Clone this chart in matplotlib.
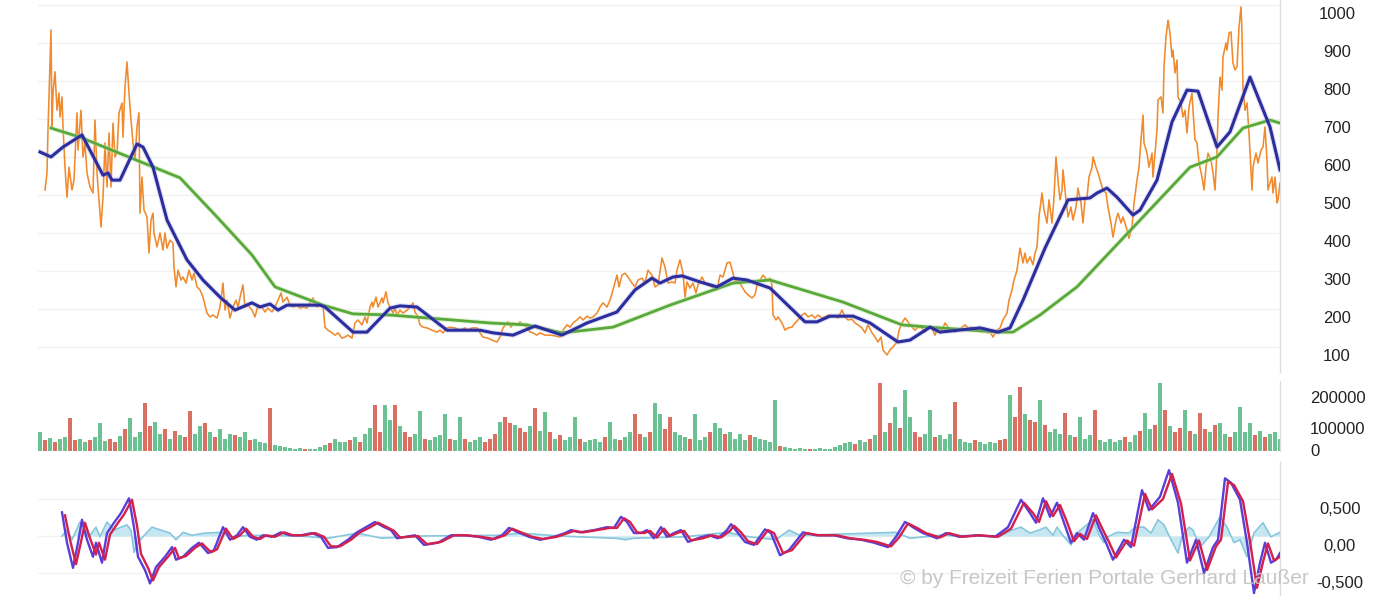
import numpy as np
import matplotlib
matplotlib.use("Agg")
import matplotlib.pyplot as plt
from matplotlib.transforms import ScaledTranslation, blended_transform_factory

# ---------------- data (session index) ----------------
price_session = [
    7, 9, 10, 13, 14, 15, 17, 19, 21, 22,
    24, 25, 27, 29, 31, 34, 36, 39, 40, 43,
    45, 47, 49, 52, 55, 57, 59, 61, 63, 65,
    67, 69, 71, 73, 75, 77, 79, 81, 84, 85,
    87, 89, 91, 93, 95, 97, 99, 101, 102, 104,
    106, 109, 111, 113, 115, 116, 119, 122, 125, 127,
    129, 132, 135, 136, 138, 140, 143, 145, 148, 151,
    154, 156, 159, 162, 165, 169, 172, 175, 179, 182,
    185, 187, 189, 192, 195, 198, 200, 203, 205, 207,
    210, 214, 217, 220, 224, 227, 230, 234, 237, 240,
    243, 245, 249, 252, 255, 259, 262, 265, 269, 272,
    275, 279, 282, 285, 287, 290, 294, 297, 300, 304,
    307, 310, 314, 317, 320, 324, 327, 329, 332, 334,
    335, 338, 340, 344, 345, 348, 350, 352, 355, 357,
    359, 362, 365, 369, 372, 375, 377, 380, 382, 385,
    389, 394, 399, 402, 405, 409, 412, 417, 422, 427,
    430, 434, 439, 442, 445, 450, 454, 459, 462, 465,
    469, 470, 473, 475, 479, 482, 485, 489, 492, 495,
    499, 502, 507, 512, 517, 522, 525, 529, 532, 535,
    539, 542, 545, 549, 552, 555, 559, 562, 565, 569,
    572, 575, 579, 581, 584, 587, 590, 594, 597, 600,
    604, 607, 610, 614, 617, 620, 624, 627, 630, 634,
    637, 639, 642, 645, 647, 649, 652, 655, 658, 660,
    664, 667, 670, 674, 679, 682, 685, 689, 692, 695,
    697, 700, 704, 707, 710, 714, 717, 719, 722, 725,
    729, 732, 734, 735, 738, 740, 744, 747, 750, 754,
    757, 760, 764, 767, 770, 774, 777, 780, 784, 787,
    790, 794, 797, 800, 804, 807, 810, 814, 817, 820,
    824, 827, 830, 834, 837, 840, 843, 845, 849, 852,
    855, 859, 861, 864, 867, 870, 874, 877, 880, 884,
    887, 890, 894, 897, 900, 904, 907, 910, 914, 917,
    920, 924, 927, 930, 934, 937, 940, 944, 947, 950,
    952, 955, 959, 962, 965, 969, 971, 974, 976, 979,
    982, 985, 987, 989, 992, 995, 997, 999, 1001, 1004,
    1006, 1009, 1011, 1014, 1016, 1018, 1020, 1022, 1024, 1025,
    1028, 1030, 1033, 1035, 1038, 1040, 1043, 1045, 1047, 1049,
    1051, 1054, 1055, 1058, 1060, 1063, 1065, 1068, 1070, 1073,
    1075, 1078, 1080, 1083, 1085, 1089, 1091, 1094, 1096, 1099,
    1101, 1103, 1105, 1106, 1109, 1111, 1114, 1115, 1117, 1119,
    1120, 1123, 1125, 1126, 1128, 1130, 1132, 1134, 1135, 1137,
    1139, 1140, 1143, 1145, 1147, 1149, 1151, 1154, 1155, 1157,
    1159, 1161, 1164, 1166, 1168, 1170, 1173, 1175, 1177, 1179,
    1180, 1182, 1184, 1185, 1188, 1189, 1191, 1193, 1195, 1197,
    1199, 1201, 1203, 1204, 1205, 1207, 1209, 1211, 1214, 1215,
    1218, 1220, 1223, 1225, 1227, 1229, 1230, 1232, 1234, 1235,
    1237, 1239, 1240, 1242,
]
price = [
    513, 558, 671, 934, 679, 768, 824, 723, 768, 705,
    758, 679, 573, 494, 573, 513, 539, 716, 618, 723,
    600, 637, 558, 521, 505, 697, 558, 487, 416, 494,
    637, 521, 663, 521, 689, 600, 610, 716, 742, 652,
    784, 850, 768, 697, 637, 592, 679, 716, 452, 547,
    460, 442, 347, 434, 452, 400, 363, 400, 355, 400,
    360, 381, 373, 310, 258, 302, 276, 284, 268, 302,
    276, 294, 258, 250, 231, 189, 179, 184, 176, 205,
    268, 197, 223, 176, 205, 223, 205, 242, 263, 205,
    210, 197, 179, 210, 205, 192, 202, 192, 205, 223,
    242, 218, 231, 210, 205, 210, 202, 205, 202, 216,
    229, 205, 210, 210, 152, 144, 137, 131, 137, 123,
    126, 131, 123, 163, 171, 158, 179, 163, 205, 218,
    205, 231, 205, 229, 216, 245, 216, 205, 189, 202,
    184, 197, 189, 197, 205, 216, 192, 179, 158, 152,
    150, 144, 139, 144, 137, 150, 152, 150, 144, 150,
    144, 150, 150, 137, 126, 123, 118, 113, 126, 150,
    163, 166, 152, 163, 158, 166, 158, 152, 139, 137,
    131, 137, 131, 131, 129, 126, 144, 158, 152, 163,
    171, 179, 171, 181, 176, 179, 189, 205, 216, 205,
    223, 250, 289, 258, 289, 294, 284, 268, 258, 276,
    281, 268, 302, 289, 258, 263, 334, 310, 268, 271,
    268, 302, 329, 294, 231, 271, 255, 268, 242, 263,
    284, 268, 263, 258, 250, 289, 284, 321, 323, 294,
    271, 276, 258, 245, 237, 229, 237, 263, 276, 289,
    276, 281, 263, 184, 171, 179, 163, 144, 150, 152,
    163, 171, 184, 189, 179, 184, 176, 184, 176, 179,
    184, 179, 181, 176, 197, 179, 171, 173, 163, 158,
    150, 137, 158, 137, 126, 113, 126, 92, 79, 92,
    100, 113, 144, 163, 176, 166, 152, 144, 152, 150,
    139, 152, 150, 131, 150, 144, 163, 152, 144, 139,
    144, 152, 158, 150, 152, 144, 150, 139, 150, 137,
    139, 126, 144, 150, 171, 189, 223, 250, 276, 302,
    360, 321, 347, 321, 337, 316, 347, 363, 442, 505,
    460, 426, 487, 426, 494, 600, 539, 487, 513, 566,
    487, 442, 468, 434, 468, 518, 479, 426, 487, 494,
    547, 573, 600, 573, 558, 531, 513, 505, 468, 426,
    389, 434, 452, 426, 442, 408, 386, 416, 479, 539,
    573, 645, 710, 637, 610, 573, 610, 547, 610, 671,
    750, 758, 716, 837, 916, 960, 926, 863, 881, 821,
    855, 758, 742, 705, 723, 663, 731, 768, 723, 645,
    637, 584, 547, 513, 573, 610, 592, 558, 513, 618,
    705, 810, 776, 863, 900, 881, 926, 929, 847, 829,
    837, 942, 995, 926, 784, 723, 742, 663, 513, 573,
    610, 584, 618, 626, 679, 592, 513, 531, 547, 505,
    547, 479, 487, 531,
]

ma_short_session = [
    2, 13, 25, 44, 65, 70, 74, 82, 99, 105,
    115, 129, 149, 165, 182, 197, 214, 222, 232, 240,
    249, 282, 287, 315, 329, 352, 362, 379, 409, 429,
    442, 455, 475, 497, 524, 549, 579, 597, 614, 622,
    635, 644, 662, 679, 695, 709, 732, 767, 779, 792,
    815, 832, 860, 872, 892, 902, 942, 960, 972, 985,
    1007, 1030, 1052, 1059, 1069, 1079, 1095, 1102, 1119, 1134,
    1149, 1160, 1179, 1192, 1212, 1232, 1242,
]
ma_short = [
    613, 600, 626, 658, 552, 558, 539, 539, 634, 626,
    573, 434, 329, 276, 231, 197, 216, 205, 213, 197,
    210, 210, 205, 139, 139, 202, 208, 205, 144, 144,
    144, 137, 131, 155, 131, 163, 192, 250, 281, 268,
    284, 287, 271, 258, 281, 276, 255, 166, 166, 181,
    181, 163, 113, 118, 152, 139, 150, 139, 150, 223,
    360, 487, 492, 505, 518, 494, 447, 460, 539, 692,
    776, 773, 626, 666, 810, 679, 566,
]

ma_long_session = [
    13, 42, 142, 179, 214, 237, 285, 315, 352, 452,
    489, 524, 575, 632, 695, 732, 805, 864, 892, 960,
    975, 1002, 1039, 1152, 1179, 1205, 1232, 1242,
]
ma_long = [
    676, 652, 545, 442, 342, 258, 210, 187, 184, 163,
    158, 137, 152, 210, 268, 276, 218, 158, 152, 139,
    139, 184, 258, 573, 600, 676, 697, 689,
]

# volume in thousands, one bar every 5 sessions
volume_k = [
    60, 35, 42, 30, 38, 45, 105, 35, 40, 28,
    36, 45, 90, 32, 38, 30, 48, 70, 105, 45,
    60, 155, 80, 95, 55, 70, 40, 65, 50, 45,
    130, 55, 80, 90, 60, 45, 70, 40, 55, 50,
    45, 60, 35, 40, 30, 25, 140, 20, 15, 12,
    10, 8, 10, 6, 8, 5, 12, 20, 25, 40,
    30, 28, 35, 45, 30, 55, 75, 148, 60, 148,
    100, 148, 80, 60, 45, 55, 130, 40, 35, 45,
    50, 120, 40, 35, 110, 40, 30, 35, 45, 30,
    40, 55, 95, 110, 90, 85, 75, 60, 80, 140,
    65, 125, 60, 40, 50, 35, 45, 110, 40, 30,
    35, 40, 30, 45, 95, 40, 35, 45, 60, 120,
    55, 45, 60, 155, 120, 70, 110, 60, 50, 45,
    40, 120, 35, 45, 60, 90, 75, 55, 60, 40,
    55, 35, 50, 45, 40, 35, 30, 165, 15, 12,
    10, 8, 10, 7, 6, 8, 10, 6, 8, 12,
    20, 25, 30, 22, 35, 28, 40, 50, 219, 60,
    90, 142, 75, 197, 110, 60, 45, 55, 132, 45,
    50, 40, 55, 158, 40, 30, 25, 35, 28, 22,
    30, 25, 35, 40, 181, 110, 206, 120, 100, 95,
    165, 85, 60, 70, 55, 123, 50, 45, 110, 40,
    50, 132, 35, 30, 40, 28, 35, 45, 30, 50,
    65, 123, 70, 85, 219, 132, 80, 60, 75, 132,
    65, 55, 123, 70, 60, 85, 90, 55, 45, 60,
    142, 60, 90, 50, 65, 45, 55, 60, 40,
]
volume_dir = ("grgrggrrgg" "rgggrrgrgg" "grrggrgrgr" "rggrgrgggr" "ggrgggrggg"
              "gggrggggrg" "ggrgrggrrg" "grgrrggrgg" "ggrggrgggr" "rrgrrgrrgr"
              "ggrgrgggrg" "gggrggrggr" "rgrggrrggg" "rgggrggrgg" "ggrgggggrg"
              "ggggrggggg" "gggrggrgrg" "rgrggrrggr" "gggrgggrgg" "ggrrgrrgrr"
              "grgggrgrgg" "grgggggrgg" "rggrgrgrrg" "rgrrgrggrg" "gggrgrggg")

macd_session = [
    24, 29, 35, 40, 44, 49, 55, 58, 64, 69,
    76, 83, 91, 96, 100, 107, 112, 118, 127, 134,
    138, 145, 154, 161, 170, 176, 185, 192, 199, 205,
    212, 219, 225, 234, 243, 252, 263, 274, 283, 290,
    299, 310, 319, 328, 337, 346, 353, 359, 368, 377,
    386, 400, 413, 426, 440, 453, 464, 471, 480, 491,
    502, 516, 527, 533, 542, 556, 569, 576, 583, 589,
    596, 603, 609, 616, 623, 629, 636, 643, 650, 662,
    671, 680, 689, 693, 700, 707, 716, 727, 733, 742,
    751, 765, 778, 796, 809, 823, 836, 850, 858, 867,
    876, 885, 899, 908, 921, 939, 957, 970, 983, 992,
    998, 1005, 1012, 1019, 1026, 1033, 1039, 1046, 1055, 1062,
    1068, 1075, 1086, 1093, 1104, 1111, 1122, 1131, 1140, 1149,
    1158, 1166, 1175, 1180, 1187, 1193, 1202, 1209, 1216, 1222,
    1227, 1233, 1238, 1242,
]
macd = [
    0.32, -0.09, -0.43, -0.09, 0.22, -0.05, -0.28, -0.09, -0.36, 0.04,
    0.18, 0.31, 0.51, 0.12, -0.28, -0.46, -0.64, -0.42, -0.28, -0.15,
    -0.32, -0.28, -0.16, -0.09, -0.23, -0.19, 0.12, -0.05, 0.01, 0.12,
    -0.01, -0.05, 0.01, -0.01, 0.05, 0.01, 0.01, 0.04, -0.01, -0.16,
    -0.15, -0.05, 0.05, 0.12, 0.19, 0.12, 0.08, -0.03, -0.01, 0.01,
    -0.12, -0.09, 0.01, 0.01, -0.01, -0.05, 0.01, 0.11, 0.05, -0.01,
    -0.05, -0.01, 0.04, 0.08, 0.05, 0.08, 0.12, 0.11, 0.26, 0.19,
    0.04, 0.04, 0.08, -0.03, 0.12, -0.01, 0.04, 0.08, -0.08, -0.02,
    0.01, -0.03, 0.08, 0.16, 0.04, -0.08, -0.12, 0.09, 0.04, -0.26,
    -0.19, 0.05, 0.01, 0.01, -0.03, -0.05, -0.09, -0.15, -0.01, 0.19,
    0.11, 0.04, -0.03, 0.04, -0.01, 0.01, -0.01, 0.12, 0.49, 0.31,
    0.18, 0.51, 0.26, 0.45, 0.18, -0.09, 0.04, -0.05, 0.31, 0.08,
    -0.09, -0.32, -0.05, -0.15, 0.62, 0.35, 0.53, 0.89, 0.45, -0.36,
    -0.05, -0.50, -0.15, -0.05, 0.78, 0.72, 0.49, -0.09, -0.77, -0.36,
    -0.09, -0.36, -0.32, -0.23,
]

signal_session = [
    27, 32, 38, 43, 47, 52, 58, 61, 67, 72,
    79, 86, 94, 99, 103, 110, 115, 121, 130, 137,
    141, 148, 157, 164, 173, 179, 188, 195, 202, 208,
    215, 222, 228, 237, 246, 255, 266, 277, 286, 293,
    302, 313, 322, 331, 340, 349, 356, 362, 371, 380,
    389, 403, 416, 429, 443, 456, 467, 474, 483, 494,
    505, 519, 530, 536, 545, 559, 572, 579, 586, 592,
    599, 606, 612, 619, 626, 632, 639, 646, 653, 665,
    674, 683, 692, 696, 703, 710, 719, 730, 736, 745,
    754, 768, 781, 799, 812, 826, 839, 853, 861, 870,
    879, 888, 902, 911, 924, 942, 960, 973, 986, 995,
    1001, 1008, 1015, 1022, 1029, 1036, 1042, 1049, 1058, 1065,
    1071, 1078, 1089, 1096, 1107, 1114, 1125, 1134, 1143, 1152,
    1161, 1169, 1178, 1183, 1190, 1196, 1205, 1212, 1219, 1225,
    1230, 1236, 1242,
]
signal = [
    0.28, -0.05, -0.38, -0.08, 0.18, -0.03, -0.25, -0.09, -0.32, 0.02,
    0.16, 0.29, 0.49, 0.14, -0.24, -0.43, -0.60, -0.42, -0.28, -0.16,
    -0.30, -0.27, -0.16, -0.10, -0.22, -0.18, 0.10, -0.04, 0.01, 0.10,
    -0.01, -0.04, 0.01, -0.01, 0.05, 0.01, 0.01, 0.04, -0.01, -0.14,
    -0.14, -0.05, 0.05, 0.11, 0.18, 0.12, 0.07, -0.02, -0.01, 0.00,
    -0.11, -0.08, 0.01, 0.01, -0.01, -0.04, 0.01, 0.10, 0.05, -0.01,
    -0.04, -0.01, 0.04, 0.07, 0.05, 0.08, 0.11, 0.11, 0.24, 0.19,
    0.05, 0.04, 0.07, -0.02, 0.10, 0.00, 0.04, 0.07, -0.06, -0.03,
    0.01, -0.02, 0.07, 0.14, 0.05, -0.07, -0.11, 0.08, 0.04, -0.23,
    -0.19, 0.04, 0.01, 0.01, -0.03, -0.05, -0.08, -0.14, -0.02, 0.17,
    0.11, 0.04, -0.02, 0.04, -0.01, 0.01, -0.01, 0.10, 0.45, 0.31,
    0.19, 0.47, 0.27, 0.42, 0.19, -0.07, 0.03, -0.04, 0.28, 0.08,
    -0.08, -0.29, -0.06, -0.13, 0.57, 0.36, 0.50, 0.84, 0.44, -0.33,
    -0.06, -0.46, -0.14, -0.05, 0.73, 0.69, 0.47, -0.07, -0.70, -0.35,
    -0.10, -0.33, -0.28,
]

hist_session = [
    24, 29, 34, 42, 51, 58, 62, 69, 76, 83,
    89, 93, 96, 100, 105, 114, 123, 132, 138, 145,
    154, 167, 185, 194, 212, 262, 290, 319, 344, 382,
    462, 482, 522, 578, 587, 596, 645, 662, 689, 711,
    738, 751, 762, 858, 872, 902, 962, 974, 983, 992,
    1001, 1008, 1015, 1019, 1026, 1033, 1039, 1046, 1055, 1062,
    1066, 1070, 1079, 1091, 1097, 1106, 1113, 1120, 1126, 1133,
    1140, 1144, 1151, 1155, 1162, 1171, 1182, 1189, 1196, 1202,
    1209, 1216, 1225, 1233, 1242,
]
hist = [
    0.00, 0.08, -0.05, 0.19, -0.01, 0.12, -0.01, 0.19, 0.08, 0.12,
    0.15, 0.08, -0.22, -0.09, -0.01, 0.12, 0.08, 0.04, -0.05, 0.05,
    0.01, 0.04, 0.05, -0.01, 0.01, 0.00, -0.03, 0.04, -0.03, 0.00,
    0.01, 0.04, 0.00, -0.03, -0.05, -0.03, -0.01, 0.01, 0.05, -0.01,
    -0.05, 0.08, 0.01, 0.05, -0.03, 0.01, 0.00, 0.08, 0.12, 0.04,
    0.08, 0.12, 0.01, 0.12, -0.01, -0.12, 0.04, 0.12, 0.22, -0.01,
    -0.09, -0.01, 0.05, 0.04, 0.12, 0.12, 0.04, 0.22, 0.15, -0.05,
    -0.23, -0.01, 0.12, 0.08, -0.15, -0.01, 0.26, 0.12, -0.09, -0.05,
    -0.28, 0.04, 0.18, -0.01, 0.05,
]

price_ticks = [100, 200, 300, 400, 500, 600, 700, 800, 900, 1000]
volume_ticks_k = [100, 200]
volume_tick_labels = ["100000", "200000"]
osc_ticks = [-0.5, 0.0, 0.5]
osc_tick_labels = ["-0,500", "0,00", "0,500"]
watermark = "\u00a9 by Freizeit Ferien Portale Gerhard Lau\u00dfer"

# ---------------- figure ----------------
W, H = 1400, 596
fig = plt.figure(figsize=(W / 100, H / 100), dpi=100)
fig.patch.set_facecolor("white")
FONT = "Liberation Sans"
LABEL_COLOR = "#222222"


def px_axes(x0, y0, x1, y1):
    return fig.add_axes([x0 / W, 1 - y1 / H, (x1 - x0) / W, (y1 - y0) / H])


ax = px_axes(38, 0, 1280, 372)
axv = px_axes(38, 381, 1280, 451)
axo = px_axes(38, 462, 1280, 596)

n_sessions = 1242
for a in (ax, axv, axo):
    a.set_xlim(0, n_sessions)
    for s in ("left", "top", "bottom"):
        a.spines[s].set_visible(False)
    a.spines["right"].set_color("#dddddd")
    a.spines["right"].set_linewidth(1.0)
    a.tick_params(left=False, right=False, bottom=False, top=False,
                  labelleft=False, labelright=False, labelbottom=False)
    a.set_facecolor("none")


def right_label(a, value, text, dx_px, dy_px, ha):
    tr = blended_transform_factory(a.transAxes, a.transData)
    off = ScaledTranslation(dx_px / 100, -dy_px / 100, fig.dpi_scale_trans)
    a.text(1.0, value, text, transform=tr + off, ha=ha, va="center",
           fontsize=12, family=FONT, color=LABEL_COLOR, clip_on=False)


# --- price panel ---
ax.set_ylim(34, 1013)
ax.set_yticks(price_ticks)
ax.grid(axis="y", color="#f1f1f1", linewidth=0.9)
ax.set_axisbelow(True)
ax.plot(price_session, price, color="#f08a2c", linewidth=1.15, zorder=3)
ax.plot(ma_long_session, ma_long, color="#c2e3ab", linewidth=3.6, alpha=0.45,
        zorder=4, solid_joinstyle="round")
ax.plot(ma_long_session, ma_long, color="#58a83a", linewidth=2.0, zorder=5,
        solid_joinstyle="round")
ax.plot(ma_short_session, ma_short, color="#9a9ce4", linewidth=3.8, alpha=0.3,
        zorder=6, solid_joinstyle="round")
ax.plot(ma_short_session, ma_short, color="#2b2e9c", linewidth=2.2, zorder=7,
        solid_joinstyle="round")
for v in price_ticks:
    right_label(ax, v, str(v), 57, 10, "center")

# --- volume panel ---
axv.set_ylim(0, 225.8)
colors = {"g": "#4cb47a", "r": "#d4503f"}
vdir = volume_dir.ljust(len(volume_k), "g")[:len(volume_k)]
vol_x = np.arange(len(volume_k)) * 5
axv.bar(vol_x, volume_k, width=4.2, align="edge",
        color=[colors[c] for c in vdir], edgecolor="none", alpha=0.82)
right_label(axv, 0, "0", 30, 0, "left")
for v, t in zip(volume_ticks_k, volume_tick_labels):
    right_label(axv, v, t, 30, 10, "left")

# --- oscillator panel ---
axo.set_ylim(-0.81, 1.0)
axo.set_yticks(osc_ticks)
axo.grid(axis="y", color="#f2f2f2", linewidth=0.9)
axo.set_axisbelow(True)
axo.fill_between(hist_session, hist, 0, color="#c6e7f1", linewidth=0, zorder=2)
axo.plot(hist_session, hist, color="#86c7dd", linewidth=1.2, zorder=3)
axo.plot(macd_session, macd, color="#5a3ed8", linewidth=1.7, zorder=4)
axo.plot(signal_session, signal, color="#d3204c", linewidth=1.7, zorder=5)
for v, t in zip(osc_ticks, osc_tick_labels):
    right_label(axo, v, t, 60, 10, "center")

# --- watermark ---
fig.text(1309 / W, 1 - 578 / H, watermark, ha="right", va="center",
         fontsize=15, family=FONT, color="#c4c4c4", alpha=0.95, zorder=10)

fig.savefig("out.png", dpi=100, facecolor="white")
